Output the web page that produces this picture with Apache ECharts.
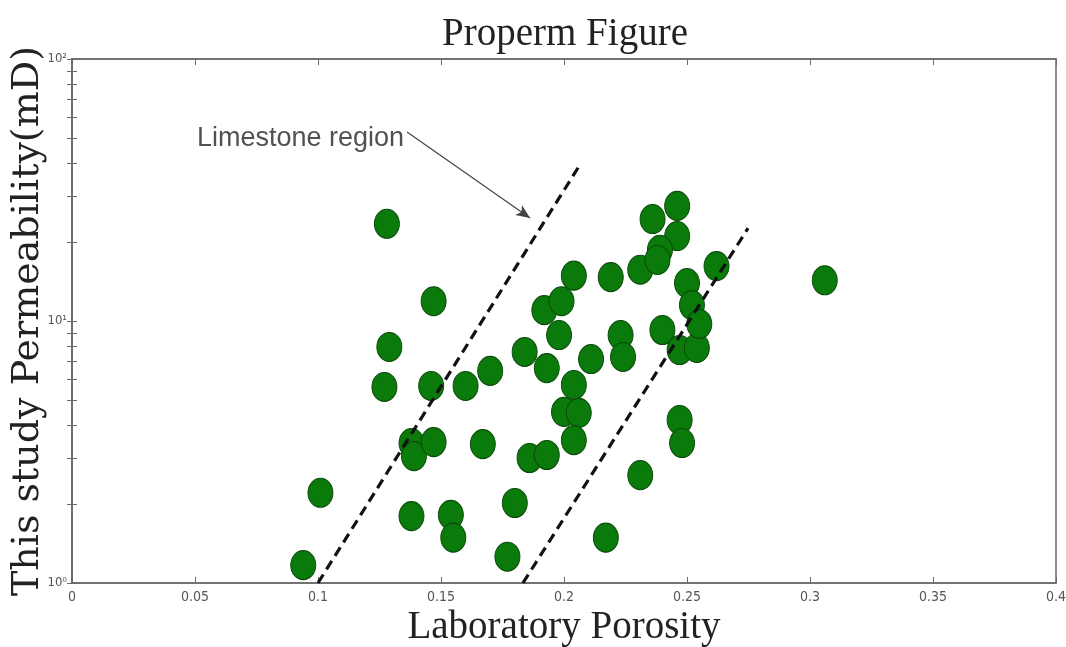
<!DOCTYPE html>
<html>
<head>
<meta charset="utf-8">
<script src="https://cdn.jsdelivr.net/npm/echarts@6/dist/echarts.min.js"></script>
<style>html,body{margin:0;padding:0;background:#fff;}#chart{width:1066px;height:647px;}</style>
</head>
<body>
<div id="chart"></div>
<script>
// Data
const porosity = [0.094,0.101,0.128,0.129,0.127,0.147,0.146,0.138,0.139,0.147,0.138,0.154,0.155,0.160,0.170,0.167,0.186,0.193,0.180,0.177,0.184,0.193,0.192,0.199,0.204,0.219,0.198,0.204,0.200,0.206,0.204,0.211,0.217,0.231,0.223,0.224,0.231,0.236,0.246,0.246,0.239,0.238,0.240,0.247,0.254,0.250,0.252,0.255,0.262,0.306,0.247,0.248];
const permeability = [1.17,2.21,23.5,7.96,5.60,11.9,5.65,3.42,3.05,3.45,1.80,1.82,1.49,5.65,6.45,3.39,3.00,3.08,2.02,1.26,7.62,6.61,11.0,11.9,14.9,14.7,8.84,5.70,4.50,4.46,3.51,7.16,1.49,2.58,8.84,7.29,15.7,24.5,27.5,21.1,18.7,17.1,9.24,7.75,7.89,13.96,11.5,9.74,16.2,14.3,4.19,3.42];
const boundaryLeft = [[0.100, 1.0], [0.2065, 39.5]];
const boundaryRight = [[0.1833, 1.0], [0.2748, 22.6]];
const arrowStart = [0.1362, 52.7];
const arrowEnd = [0.1862, 24.7];
const annotationText = 'Limestone region';
const xTicks = [0, 0.05, 0.1, 0.15, 0.2, 0.25, 0.3, 0.35, 0.4];
const yMajor = [1, 10, 100];
const yMinorTicks = [1,2,3,4,5,6,7,8,9,10,20,30,40,50,60,70,80,90,100];
const titleText = 'Properm Figure';
const xName = 'Laboratory Porosity';
const yName = 'This study Permeability(mD)';

const sup = {0:'\u2070',1:'\u00B9',2:'\u00B2'};
const points = porosity.map((x, i) => [x, permeability[i]]);

const chart = echarts.init(document.getElementById('chart'));
const tickFont = "'Liberation Sans Narrow','DejaVu Sans Condensed','Liberation Sans',sans-serif";
const axisLineStyle = {color: '#6a6a6a', width: 1.5};

chart.setOption({
  animation: false,
  backgroundColor: '#fff',
  title: {
    text: titleText,
    left: 560,
    textAlign: 'center',
    top: 10,
    textStyle: {fontFamily: "'Liberation Serif', serif", fontSize: 39, fontWeight: 'normal', color: '#222'}
  },
  grid: {left: 72, right: 10, top: 59, bottom: 64, containLabel: false, outerBoundsMode: 'none',
    show: true, borderColor: '#6a6a6a', borderWidth: 1.5},
  xAxis: [{
    type: 'value', min: 0, max: 0.4, interval: 0.05,
    name: xName, nameLocation: 'middle', nameGap: 25, nameMoveOverlap: false,
    nameTextStyle: {fontFamily: "'Liberation Serif', serif", fontSize: 39, color: '#222', verticalAlign: 'top'},
    axisLine: {show: true, lineStyle: axisLineStyle},
    axisTick: {show: true, inside: true, length: 6, lineStyle: {color: '#6a6a6a'}},
    axisLabel: {fontFamily: tickFont, fontSize: 14, color: '#555', margin: 7,
      formatter: v => String(parseFloat(v.toFixed(2)))},
    splitLine: {show: false}
  }, {
    type: 'value', min: 0, max: 0.4, interval: 0.05, position: 'top',
    axisLine: {show: true, lineStyle: axisLineStyle},
    axisTick: {show: true, inside: true, length: 6, lineStyle: {color: '#6a6a6a'}},
    axisLabel: {show: false}, splitLine: {show: false}
  }],
  yAxis: [{
    type: 'log', logBase: 10, min: 1, max: 100,
    name: yName, nameLocation: 'middle', nameGap: 25, nameMoveOverlap: false,
    nameTextStyle: {fontFamily: "'DejaVu Serif', serif", fontSize: 38, color: '#222'},
    axisLine: {show: true, lineStyle: axisLineStyle},
    axisTick: {show: true, inside: true, length: 5, customValues: yMinorTicks, lineStyle: {color: '#6a6a6a'}},
    axisLabel: {fontFamily: tickFont, fontSize: 13, color: '#555', margin: 5, customValues: yMajor,
      formatter: v => '10' + sup[Math.round(Math.log10(v))]},
    splitLine: {show: false}
  }, {
    type: 'log', logBase: 10, min: 1, max: 100, position: 'right',
    axisLine: {show: true, lineStyle: axisLineStyle},
    axisTick: {show: true, inside: true, length: 5, customValues: yMinorTicks, lineStyle: {color: '#6a6a6a'}},
    axisLabel: {show: false}, splitLine: {show: false}
  }],
  series: [{
    type: 'scatter',
    data: points,
    symbol: 'circle',
    symbolSize: [25, 29],
    itemStyle: {color: '#0a7a0a', borderColor: '#0b4a0b', borderWidth: 1, opacity: 1},
    z: 2
  }, {
    type: 'line', data: boundaryLeft, symbol: 'none',
    lineStyle: {color: '#111', width: 3.2, type: [10, 6]}, z: 3
  }, {
    type: 'line', data: boundaryRight, symbol: 'none',
    lineStyle: {color: '#111', width: 3.2, type: [10, 6]}, z: 3
  }, {
    type: 'scatter',
    data: [arrowStart],
    symbolSize: 0,
    label: {show: true, position: 'left', distance: 3, offset: [0, 7], formatter: annotationText,
      fontFamily: "'Liberation Sans', Arial, sans-serif", fontSize: 27, color: '#262626'},
    markLine: {
      silent: true, symbol: ['none', 'arrow'], symbolSize: [9, 14],
      lineStyle: {color: '#444', width: 1.2, type: 'solid'},
      label: {show: false},
      data: [[{coord: arrowStart}, {coord: arrowEnd}]]
    },
    z: 4
  }]
});
</script>
</body>
</html>
